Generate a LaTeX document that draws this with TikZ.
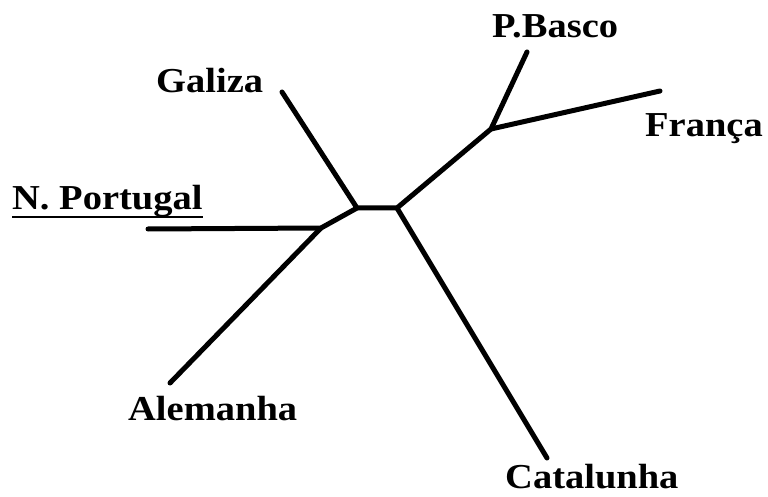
\documentclass[tikz,border=0pt]{standalone}
\usepackage{fontspec}
\setmainfont{Liberation Serif}
\newcommand{\wide}[1]{\scalebox{1.1}[1]{#1}}
\begin{document}
\begin{tikzpicture}[x=1pt,y=-1pt,
  branch/.style={line width=5pt,line cap=round,line join=round,black},
  lbl/.style={font=\fontsize{35}{35}\selectfont\bfseries,inner sep=0pt,anchor=base west}]
\useasboundingbox[fill=white] (0,0) rectangle (768,497);
% internal nodes
\coordinate (A) at (357,208);
\coordinate (B) at (397,208);
\coordinate (C) at (321,228);
\coordinate (D) at (491,129);
% leaf ends
\coordinate (gal) at (282,92);
\coordinate (npt) at (148,229);
\coordinate (ale) at (170,383);
\coordinate (pb) at (527,52);
\coordinate (fr) at (660,91);
\coordinate (cat) at (547,458);
% branches
\draw[branch] (gal) -- (A) -- (B) -- (D) -- (pb);
\draw[branch] (D) -- (fr);
\draw[branch] (B) -- (cat);
\draw[branch] (A) -- (C) -- (npt);
\draw[branch] (C) -- (ale);
% labels
\node[lbl] (tgal) at (156,93) {\wide{Galiza}};
\node[lbl] (tnpt) at (12,209) {\wide{N. Portugal}};
\draw[line width=2.5pt] ([yshift=-8pt]tnpt.base west) -- ([yshift=-8pt]tnpt.base east);
\node[lbl] (tpb) at (492,38) {\wide{P.Basco}};
\node[lbl] (tfr) at (645,137) {\wide{França}};
\node[lbl] (tale) at (128,420) {\wide{Alemanha}};
\node[lbl] (tcat) at (505,488) {\wide{Catalunha}};
\end{tikzpicture}
\end{document}
